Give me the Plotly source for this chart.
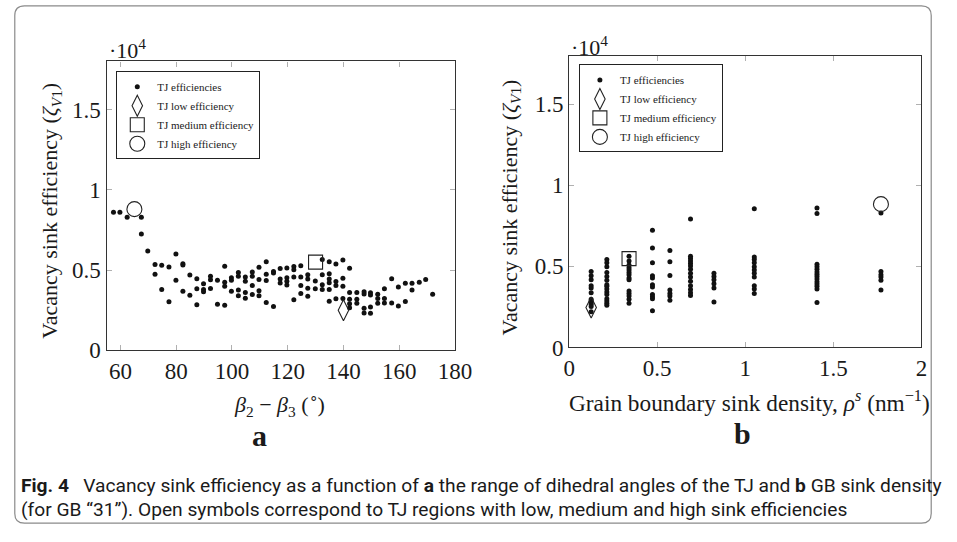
import plotly.graph_objects as go

W, H = 957, 542

# ---------------- data: panel a (dihedral-angle range vs efficiency, x1e4) ----------------
angle_tj = [57.5, 59.8, 62.4, 67.5, 67.5, 69.8,
            72.4, 72.4, 74.8, 74.8, 77.4, 77.4, 79.9, 79.9,
            82.4, 82.4, 82.4, 84.9, 84.9, 87.4, 87.4, 87.4,
            89.8, 89.8, 89.8, 92.3, 92.3, 92.3, 94.8, 94.8,
            97.4, 97.4, 97.4, 97.4, 99.8, 99.8, 99.8,
            102.3, 102.3, 102.3, 102.3, 104.8, 104.8, 104.8, 104.8,
            107.3, 107.3, 107.3, 107.3, 109.7, 109.7, 109.7, 109.7,
            112.3, 112.3, 112.3, 112.3, 114.9, 114.9, 114.9,
            117.3, 117.3, 117.3, 119.7, 119.7, 119.7, 119.7,
            122.2, 122.2, 122.2, 122.2, 124.7, 124.7, 124.7, 124.7,
            127.2, 127.2, 127.2, 127.2, 129.9, 129.9,
            132.4, 132.4, 132.4, 132.4,
            134.9, 134.9, 134.9, 134.9, 134.9, 134.9,
            137.3, 137.3, 137.3, 137.3, 139.8, 139.8, 139.8, 139.8,
            142.2, 142.2, 142.2, 142.2, 142.2, 144.8, 144.8, 144.8,
            147.4, 147.4, 147.4, 147.4, 149.7, 149.7, 149.7, 149.7,
            152.3, 152.3, 152.3, 154.7, 154.7, 154.7,
            157.3, 157.3, 159.7, 159.7, 162.2, 162.2, 164.6, 164.6,
            167.2, 169.5, 172.0]
eff_tj_a = [0.86, 0.86, 0.83, 0.83, 0.725, 0.62,
            0.535, 0.474, 0.53, 0.38, 0.52, 0.303, 0.60, 0.437,
            0.54, 0.532, 0.368, 0.47, 0.343, 0.447, 0.384, 0.285,
            0.415, 0.38, 0.365, 0.462, 0.44, 0.386, 0.437, 0.287,
            0.524, 0.425, 0.40, 0.282, 0.453, 0.437, 0.368,
            0.486, 0.462, 0.376, 0.34, 0.457, 0.431, 0.36, 0.325,
            0.488, 0.462, 0.404, 0.348, 0.518, 0.441, 0.372, 0.34,
            0.553, 0.474, 0.435, 0.299, 0.492, 0.482, 0.274,
            0.51, 0.445, 0.42, 0.514, 0.453, 0.431, 0.407,
            0.522, 0.502, 0.457, 0.315, 0.528, 0.457, 0.404, 0.354,
            0.472, 0.445, 0.387, 0.337, 0.433, 0.384,
            0.567, 0.472, 0.409, 0.38,
            0.553, 0.477, 0.445, 0.421, 0.38, 0.306,
            0.538, 0.429, 0.404, 0.321, 0.563, 0.449, 0.40, 0.323,
            0.511, 0.36, 0.318, 0.29, 0.265, 0.36, 0.319, 0.294,
            0.366, 0.351, 0.262, 0.233, 0.359, 0.345, 0.271, 0.231,
            0.35, 0.323, 0.293, 0.384, 0.323, 0.295,
            0.447, 0.295, 0.395, 0.276, 0.419, 0.305, 0.419, 0.376,
            0.425, 0.441, 0.35]
angle_low, eff_low_a = [140.0], [0.25]
angle_med, eff_med_a = [130.0], [0.55]
angle_high, eff_high_a = [65.0], [0.88]

# ---------------- data: panel b (GB sink density vs efficiency, x1e4) ----------------
rho_tj = ([0.125] * 12 + [0.214] * 15 + [0.34] * 14 + [0.473] * 11 + [0.572] * 7 +
          [0.689] * 14 + [0.822] * 6 + [1.051] * 11 + [1.407] * 14 + [1.77] * 6)
eff_tj_b = [0.468, 0.442, 0.417, 0.381, 0.367, 0.337, 0.297, 0.287, 0.277, 0.267, 0.253, 0.221,
            0.542, 0.522, 0.498, 0.462, 0.438, 0.414, 0.387, 0.378, 0.361, 0.342, 0.327, 0.301,
            0.287, 0.273, 0.261,
            0.562, 0.534, 0.508, 0.492, 0.478, 0.462, 0.448, 0.428, 0.417, 0.348, 0.333, 0.317,
            0.297, 0.273,
            0.723, 0.614, 0.522, 0.442, 0.428, 0.387, 0.373, 0.327, 0.313, 0.301, 0.227,
            0.598, 0.528, 0.444, 0.354, 0.333, 0.317, 0.291,
            0.793, 0.562, 0.548, 0.534, 0.518, 0.502, 0.482, 0.458, 0.434, 0.408, 0.381, 0.357,
            0.337, 0.321,
            0.458, 0.438, 0.417, 0.393, 0.367, 0.281,
            0.855, 0.558, 0.542, 0.522, 0.498, 0.478, 0.458, 0.434, 0.381, 0.361, 0.333,
            0.86, 0.827, 0.514, 0.498, 0.482, 0.466, 0.452, 0.438, 0.422, 0.405, 0.392, 0.378,
            0.361, 0.277,
            0.83, 0.468, 0.448, 0.434, 0.414, 0.354]
rho_low, eff_low_b = [0.125], [0.247]
rho_med, eff_med_b = [0.34], [0.548]
rho_high, eff_high_b = [1.77], [0.884]

# ---------------- ticks / labels ----------------
x_ticks_a = [60, 80, 100, 120, 140, 160, 180]
x_ticks_b = [0, 0.5, 1, 1.5, 2]
x_ticktext_b = ["0", "0.5", "1", "1.5", "2"]
y_ticks = [0, 0.5, 1, 1.5]
y_ticktext = ["0", "0.5", "1", "1.5"]
legend_names = ["TJ efficiencies", "TJ low efficiency", "TJ medium efficiency", "TJ high efficiency"]

SERIF = "Liberation Serif, Times New Roman, serif"
INK = "#1a1a1a"

fig = go.Figure()


def add_panel(xs, ys, lows, meds, highs, xa, ya, leg):
    fig.add_trace(go.Scatter(x=xs, y=ys, mode="markers", name=legend_names[0],
                             marker=dict(size=5, color="#111"), xaxis=xa, yaxis=ya, legend=leg))
    fig.add_trace(go.Scatter(x=lows[0], y=lows[1], mode="markers", name=legend_names[1],
                             marker=dict(size=15, symbol="diamond-tall-open", color="#222",
                                         line=dict(width=1.1)),
                             xaxis=xa, yaxis=ya, legend=leg))
    fig.add_trace(go.Scatter(x=meds[0], y=meds[1], mode="markers", name=legend_names[2],
                             marker=dict(size=14, symbol="square-open", color="#222",
                                         line=dict(width=1.1)),
                             xaxis=xa, yaxis=ya, legend=leg))
    fig.add_trace(go.Scatter(x=highs[0], y=highs[1], mode="markers", name=legend_names[3],
                             marker=dict(size=15, symbol="circle-open", color="#222",
                                         line=dict(width=1.1)),
                             xaxis=xa, yaxis=ya, legend=leg))


add_panel(angle_tj, eff_tj_a, (angle_low, eff_low_a), (angle_med, eff_med_a),
          (angle_high, eff_high_a), "x", "y", "legend")
add_panel(rho_tj, eff_tj_b, (rho_low, eff_low_b), (rho_med, eff_med_b),
          (rho_high, eff_high_b), "x2", "y2", "legend2")

axis_common = dict(showline=True, linecolor="#333", linewidth=1.3, mirror="ticks",
                   ticks="inside", ticklen=5, tickcolor="#b0b0b0", tickwidth=1,
                   showgrid=False, zeroline=False,
                   tickfont=dict(family=SERIF, size=23, color=INK))


def px_x(p):
    return p / W


def px_y(p):
    return 1 - p / H


fig.update_layout(
    width=W, height=H, margin=dict(l=0, r=0, t=0, b=0),
    paper_bgcolor="white", plot_bgcolor="white", showlegend=True,
    xaxis=dict(axis_common, domain=[px_x(103), px_x(460)], range=[55, 180],
               tickvals=x_ticks_a, anchor="y"),
    yaxis=dict(axis_common, domain=[px_y(359), px_y(63)], range=[0, 1.8],
               tickvals=y_ticks, ticktext=y_ticktext, anchor="x"),
    xaxis2=dict(axis_common, domain=[px_x(577), px_x(938)], range=[0, 2],
                tickvals=x_ticks_b, ticktext=x_ticktext_b, anchor="y2"),
    yaxis2=dict(axis_common, domain=[px_y(356), px_y(57)], range=[0, 1.8],
                tickvals=y_ticks, ticktext=y_ticktext, anchor="x2"),
    legend=dict(x=px_x(113), y=px_y(73), xanchor="left", yanchor="top",
                bgcolor="white", bordercolor="#222", borderwidth=1,
                font=dict(family=SERIF, size=11, color=INK), tracegroupgap=0,
                itemwidth=30),
    legend2=dict(x=px_x(587), y=px_y(66), xanchor="left", yanchor="top",
                 bgcolor="white", bordercolor="#222", borderwidth=1,
                 font=dict(family=SERIF, size=11, color=INK), tracegroupgap=0,
                 itemwidth=30),
)

ann = []


def text(x, y, s, size, angle=0, family=SERIF, xanchor="center", color=INK):
    ann.append(dict(x=px_x(x), y=px_y(y), xref="paper", yref="paper", text=s,
                    showarrow=False, textangle=angle, xanchor=xanchor, yanchor="middle",
                    font=dict(family=family, size=size, color=color)))


ytitle = "Vacancy sink efficiency (<i>ζ</i><sub><i>V</i>1</sub>)"
text(46, 216, ytitle, 22, angle=-90)
text(517, 213, ytitle, 22, angle=-90)
text(125, 50, "·10<sup>4</sup>", 22)
text(598, 47, "·10<sup>4</sup>", 22)
text(280, 414, "<i>β</i><sub>2</sub> − <i>β</i><sub>3</sub> (<sup>∘</sup>)", 22)
text(762, 411, "Grain boundary sink density, <i>ρ</i><sup><i>s</i></sup> (nm<sup>−1</sup>)", 23.3)
text(260, 446, "<b>a</b>", 30)
text(755, 444, "<b>b</b>", 30)

CAP = "Roboto, Liberation Sans, sans-serif"
text(13, 497, "<b>Fig. 4</b>   Vacancy sink efficiency as a function of <b>a</b> the range of dihedral "
     "angles of the TJ and <b>b</b> GB sink density", 19.2, family=CAP, xanchor="left")
text(13, 522, "(for GB “31”). Open symbols correspond to TJ regions with low, medium and high "
     "sink efficiencies", 19.2, family=CAP, xanchor="left")
fig.update_layout(annotations=ann)

# rounded frame around the whole figure
x0, x1, y0, y1, r = 9, 948, 6, 536, 10
path = (f"M {px_x(x0 + r)},{px_y(y0)} L {px_x(x1 - r)},{px_y(y0)} "
        f"Q {px_x(x1)},{px_y(y0)} {px_x(x1)},{px_y(y0 + r)} "
        f"L {px_x(x1)},{px_y(y1 - r)} Q {px_x(x1)},{px_y(y1)} {px_x(x1 - r)},{px_y(y1)} "
        f"L {px_x(x0 + r)},{px_y(y1)} Q {px_x(x0)},{px_y(y1)} {px_x(x0)},{px_y(y1 - r)} "
        f"L {px_x(x0)},{px_y(y0 + r)} Q {px_x(x0)},{px_y(y0)} {px_x(x0 + r)},{px_y(y0)} Z")
fig.add_shape(type="path", path=path, xref="paper", yref="paper",
              line=dict(color="#8a8a8a", width=1.2), fillcolor="rgba(0,0,0,0)", layer="below")

fig.write_html("out.html")
